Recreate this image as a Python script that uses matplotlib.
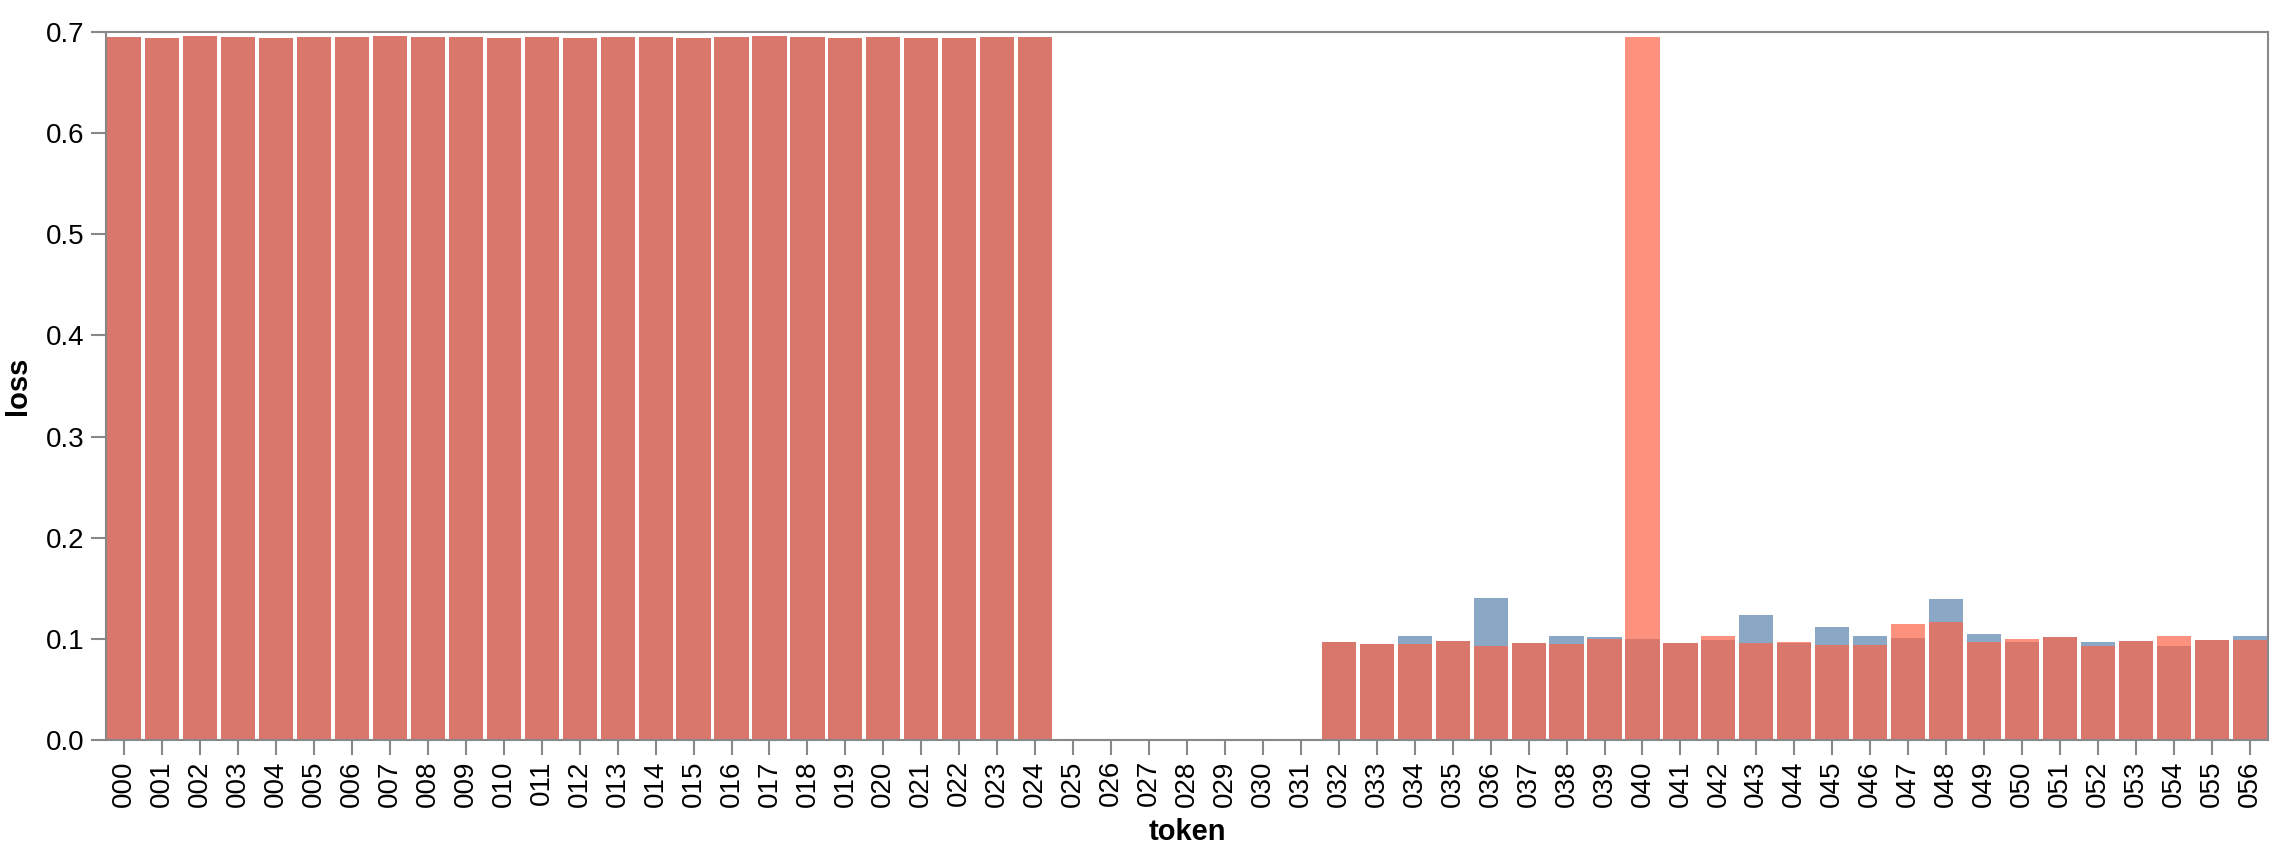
import matplotlib
matplotlib.use("Agg")
import matplotlib.pyplot as plt
import numpy as np

plt.rcParams['font.family'] = ['Liberation Sans', 'DejaVu Sans']

tokens = [f"{i:03d}" for i in range(57)]

loss_blue = [0.695, 0.694, 0.696, 0.695, 0.694, 0.695, 0.695, 0.696, 0.695, 0.695,
             0.694, 0.695, 0.694, 0.695, 0.695, 0.694, 0.695, 0.696, 0.695, 0.694,
             0.695, 0.694, 0.694, 0.695, 0.695,
             0.0, 0.0, 0.0, 0.0, 0.0, 0.0, 0.0,
             0.097, 0.095, 0.103, 0.098, 0.140, 0.096, 0.103, 0.102, 0.100, 0.096,
             0.099, 0.124, 0.096, 0.112, 0.103, 0.101, 0.139, 0.105, 0.097, 0.102,
             0.097, 0.098, 0.093, 0.099, 0.103]

loss_red = [0.695, 0.694, 0.696, 0.695, 0.694, 0.695, 0.695, 0.696, 0.695, 0.695,
            0.694, 0.695, 0.694, 0.695, 0.695, 0.694, 0.695, 0.696, 0.695, 0.694,
            0.695, 0.694, 0.694, 0.695, 0.695,
            0.0, 0.0, 0.0, 0.0, 0.0, 0.0, 0.0,
            0.097, 0.095, 0.095, 0.098, 0.093, 0.096, 0.095, 0.100, 0.695, 0.096,
            0.103, 0.096, 0.097, 0.094, 0.094, 0.115, 0.117, 0.097, 0.100, 0.102,
            0.093, 0.098, 0.103, 0.099, 0.099]

yticks = [0.0, 0.1, 0.2, 0.3, 0.4, 0.5, 0.6, 0.7]

fig = plt.figure(figsize=(22.72, 8.59), dpi=100)
ax = fig.add_axes([106/2272, 1 - 740/859, (2268 - 106)/2272, (740 - 32)/859])

x = np.arange(len(tokens))
ax.bar(x, loss_blue, width=0.9, color='#4c78a8', alpha=0.65, linewidth=0)
ax.bar(x, loss_red, width=0.9, color='#fb6347', alpha=0.7, linewidth=0)

ax.set_xlim(-0.48, len(tokens) - 0.52)
ax.set_ylim(0, 0.7)
ax.set_yticks(yticks)
ax.set_yticklabels([f"{v:.1f}" for v in yticks])
ax.set_xticks(x)
ax.set_xticklabels(tokens, rotation=90)

for s in ax.spines.values():
    s.set_color('#888888')
    s.set_linewidth(1.5)

ax.tick_params(axis='both', colors='#888888', length=10.5, width=1.5, labelcolor='black',
               labelsize=20)
ax.tick_params(axis='x', pad=4)
ax.tick_params(axis='y', pad=5)

ax.set_xlabel('token', fontsize=21, fontweight='bold', labelpad=8)
ax.set_ylabel('loss', fontsize=21, fontweight='bold', labelpad=10)

fig.savefig('out.png', dpi=100, facecolor='white')
